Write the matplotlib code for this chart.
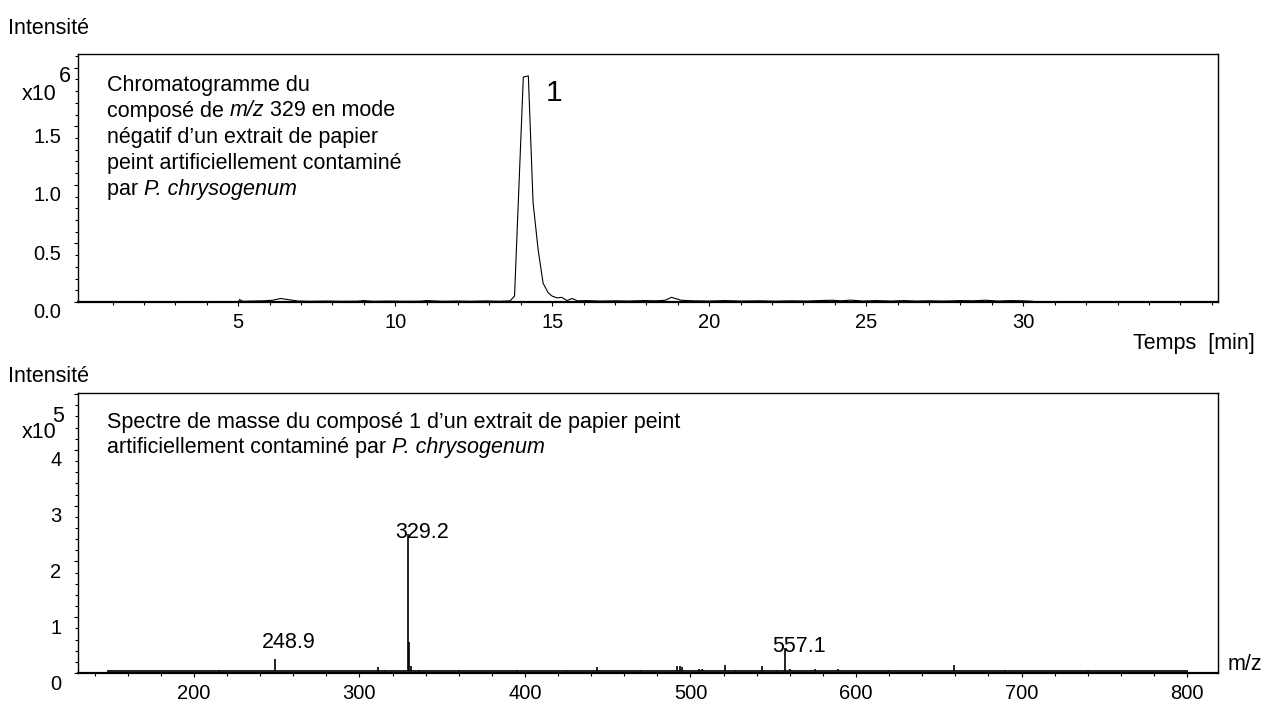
import matplotlib
matplotlib.use("Agg")
import matplotlib.pyplot as plt
from matplotlib.transforms import ScaledTranslation
from matplotlib.ticker import MultipleLocator, FixedLocator

plt.rcParams['font.family'] = ['Liberation Sans', 'DejaVu Sans']

# ---------------- data: chromatogram (intensity in 1e6) ----------------
chrom_time = [5.0, 5.05, 5.15, 5.4, 5.8, 6.1, 6.35, 6.6, 6.9, 7.3, 7.8, 8.3, 8.8,
              9.0, 9.3, 9.8, 10.3, 10.8, 11.0, 11.5, 12.0, 12.4, 12.9, 13.3,
              13.5, 13.66, 13.8, 14.08, 14.24, 14.39, 14.55, 14.71, 14.87, 15.0,
              15.16, 15.3, 15.47, 15.63, 15.8, 16.1, 16.5, 17.0, 17.4, 17.9, 18.3,
              18.6, 18.8, 19.1, 19.5, 20.0, 20.5, 21.0, 21.6, 22.1, 22.6, 23.1,
              23.5, 23.9, 24.2, 24.5, 24.9, 25.3, 25.8, 26.2, 26.6, 27.0, 27.5,
              28.0, 28.4, 28.8, 29.2, 29.6, 30.0, 30.3]
chrom_int = [0.005, 0.02, 0.006, 0.008, 0.01, 0.015, 0.03, 0.02, 0.008, 0.006, 0.008, 0.006, 0.007,
             0.012, 0.006, 0.008, 0.006, 0.007, 0.012, 0.006, 0.008, 0.006, 0.009, 0.006,
             0.008, 0.01, 0.05, 1.92, 1.93, 0.85, 0.45, 0.16, 0.08, 0.05,
             0.035, 0.04, 0.012, 0.03, 0.01, 0.012, 0.008, 0.01, 0.008, 0.012, 0.01,
             0.015, 0.04, 0.015, 0.01, 0.008, 0.012, 0.008, 0.01, 0.007, 0.01, 0.008,
             0.012, 0.015, 0.01, 0.016, 0.008, 0.012, 0.008, 0.012, 0.008, 0.01, 0.008,
             0.012, 0.01, 0.015, 0.008, 0.012, 0.01, 0.006]

# ---------------- data: mass spectrum (intensity in 1e5) ----------------
ms_range = [148.0, 800.0]
ms_baseline = 0.03
ms_peak_mz = [215.0, 248.9, 311.5, 315.7, 329.2, 330.2, 331.0, 336.0, 360.0, 395.0,
              425.0, 443.8, 470.0, 492.0, 493.5, 495.0, 505.0, 507.0, 521.0, 527.0,
              543.0, 552.0, 557.1, 560.0, 575.0, 589.0, 620.0, 659.0, 690.0, 740.0]
ms_peak_int = [0.06, 0.25, 0.10, 0.06, 2.50, 0.55, 0.12, 0.05, 0.05, 0.05,
               0.06, 0.10, 0.06, 0.12, 0.12, 0.10, 0.08, 0.07, 0.15, 0.06,
               0.12, 0.06, 0.45, 0.07, 0.07, 0.07, 0.06, 0.15, 0.06, 0.05]
ms_labels = ["248.9", "329.2", "557.1"]
ms_label_mz = [248.9, 329.2, 557.1]
ms_label_y = [0.55, 2.51, 0.47]

chrom_ticks = [5, 10, 15, 20, 25, 30]
chrom_yticks = [0.0, 0.5, 1.0, 1.5]
ms_ticks = [200, 300, 400, 500, 600, 700, 800]
ms_yticks = [0, 1, 2, 3, 4]

W, H, DPI = 1264, 702, 100
fig = plt.figure(figsize=(W / DPI, H / DPI), dpi=DPI)

def fx(px):
    return px / W

def fy(py):
    return 1 - py / H

ax1 = fig.add_axes([fx(78), fy(302), fx(1218) - fx(78), fy(54) - fy(302)])
ax2 = fig.add_axes([fx(78), fy(673), fx(1218) - fx(78), fy(393) - fy(673)])

TICK_FS = 14.5
TXT_FS = 15.5

for ax in (ax1, ax2):
    for s in ('top', 'right', 'left'):
        ax.spines[s].set_linewidth(1.0)
    ax.spines['bottom'].set_linewidth(1.6)
    ax.tick_params(which='both', direction='out', width=0.8, labelsize=TICK_FS, colors='black')
    ax.tick_params(which='major', length=3.0)
    ax.tick_params(which='minor', length=2.2)
    ax.tick_params(axis='y', pad=9)
    ax.tick_params(axis='x', pad=5)


def chain(ax, x_px, y_px, segments):
    """Write one line made of (text, italic) segments, chained left to right."""
    txt, it = segments[0]
    prev = fig.text(fx(x_px), fy(y_px), txt, fontsize=TXT_FS, va='center', ha='left',
                    style='italic' if it else 'normal')
    for txt, it in segments[1:]:
        prev = ax.annotate(txt, xy=(1, 0), xycoords=prev, fontsize=TXT_FS,
                           ha='left', va='bottom', style='italic' if it else 'normal',
                           annotation_clip=False, clip_on=False)


# ---- chromatogram ----
ax1.plot(chrom_time, chrom_int, color='black', lw=0.8)
ax1.set_xlim(-0.1, 36.2)
ax1.set_ylim(0.0, 2.117)
ax1.xaxis.set_major_locator(FixedLocator(chrom_ticks))
ax1.xaxis.set_minor_locator(FixedLocator(list(range(1, 37))))
ax1.set_xticklabels([str(t) for t in chrom_ticks])
ax1.yaxis.set_major_locator(FixedLocator(chrom_yticks + [2.0]))
ax1.set_yticklabels([f"{v:.1f}" for v in chrom_yticks] + [""])
ax1.yaxis.set_minor_locator(MultipleLocator(0.1))

chrom_lines = [[("Chromatogramme du", False)],
               [("composé de ", False), ("m/z", True), (" 329 en mode", False)],
               [("négatif d\u2019un extrait de papier", False)],
               [("peint artificiellement contaminé", False)],
               [("par ", False), ("P. chrysogenum", True)]]
for i, segs in enumerate(chrom_lines):
    chain(ax1, 107, 85 + 26 * i, segs)
ax1.text(fx(546), fy(93), "1", transform=fig.transFigure, fontsize=21.5, va='center', ha='left')

# ---- mass spectrum ----
ax2.plot(ms_range, [ms_baseline, ms_baseline], color='#222222', lw=1.4)
ax2.vlines(ms_peak_mz, ms_baseline, ms_peak_int, color='black', lw=1.2)
for lab, mz, ly in zip(ms_labels, ms_label_mz, ms_label_y):
    ax2.annotate(lab, (mz, ly), xytext=(-9, 0), textcoords='offset points',
                 fontsize=TXT_FS, ha='left', va='center')
ax2.set_xlim(130, 818.7)
ax2.set_ylim(0.0, 5.02)
ax2.xaxis.set_major_locator(FixedLocator(ms_ticks))
ax2.xaxis.set_minor_locator(MultipleLocator(20))
ax2.set_xticklabels([str(t) for t in ms_ticks])
ax2.yaxis.set_major_locator(FixedLocator(ms_yticks + [5]))
ax2.set_yticklabels([str(v) for v in ms_yticks] + [""])
ax2.yaxis.set_minor_locator(MultipleLocator(0.2))

ms_lines = [[("Spectre de masse du composé 1 d\u2019un extrait de papier peint", False)],
            [("artificiellement contaminé par ", False), ("P. chrysogenum", True)]]
for i, segs in enumerate(ms_lines):
    chain(ax2, 107, 422 + 26 * i, segs)

# shift y tick labels slightly downward as in the reference
off = ScaledTranslation(0, -9 / DPI, fig.dpi_scale_trans)
fig.canvas.draw()
for ax in (ax1, ax2):
    for lbl in ax.get_yticklabels():
        lbl.set_transform(lbl.get_transform() + off)

# axis titles / multipliers
fig.text(fx(8), fy(28), "Intensité", fontsize=TXT_FS, va='center', ha='left')
fig.text(fx(8), fy(376), "Intensité", fontsize=TXT_FS, va='center', ha='left')
fig.text(fx(1255), fy(343), "Temps  [min]", fontsize=TXT_FS, va='center', ha='right')
fig.text(fx(1262), fy(664), "m/z", fontsize=TXT_FS, va='center', ha='right')
fig.text(fx(56), fy(95), "x10", fontsize=TXT_FS, va='center', ha='right')
fig.text(fx(59), fy(76), "6", fontsize=TXT_FS, va='center', ha='left')
fig.text(fx(56), fy(433), "x10", fontsize=TXT_FS, va='center', ha='right')
fig.text(fx(52), fy(416), "5", fontsize=TXT_FS, va='center', ha='left')

fig.savefig("out.png", dpi=DPI)
